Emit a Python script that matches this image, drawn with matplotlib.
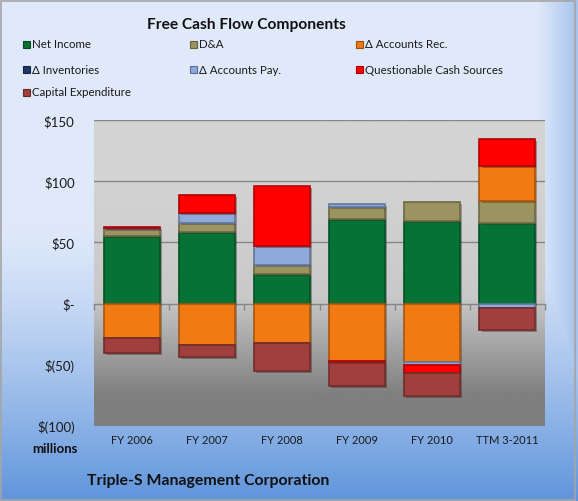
import numpy as np
import matplotlib
matplotlib.use("Agg")
import matplotlib.pyplot as plt
from matplotlib.patches import Rectangle
from matplotlib import patheffects as pe
from matplotlib.colors import to_rgb

plt.rcParams['font.family'] = ['Lato', 'DejaVu Sans']

# ---- data (millions USD) ----
categories = ['FY 2006', 'FY 2007', 'FY 2008', 'FY 2009', 'FY 2010', 'TTM 3-2011']
net_income = [55.5, 58.8, 24.0, 69.0, 67.5, 66.0]
dna = [5.5, 7.4, 7.4, 9.6, 15.3, 17.7]
accounts_rec = [-27.7, -33.6, -32.0, -46.5, -47.8, 28.7]
inventories = [0.0, 0.0, 0.0, 0.0, 0.0, 0.0]
accounts_pay = [0.8, 7.6, 15.9, 2.5, -2.5, -3.3]
questionable = [0.8, 15.0, 49.0, -2.0, -6.0, 22.0]
capex = [-12.3, -10.3, -22.7, -18.6, -19.4, -18.6]

series_names = ['Net Income', 'D&A', 'Δ Accounts Rec.', 'Δ Inventories',
                'Δ Accounts Pay.', 'Questionable Cash Sources', 'Capital Expenditure']
series_values = [net_income, dna, accounts_rec, inventories, accounts_pay, questionable, capex]
series_colors = ['#067235', '#9B9461', '#F17A13', '#1F3A68', '#8EAADB', '#FF0000', '#A13F3D']

yticks = [-100, -50, 0, 50, 100, 150]
ytick_labels = ['$(100)', '$(50)', '$-', '$50', '$100', '$150']

W, H = 578, 502
fig = plt.figure(figsize=(W / 100, H / 100), dpi=100)

# ---- figure background gradient ----
bg = fig.add_axes([0, 0, 1, 1], zorder=-10)
bg.set_axis_off()
yy, xx = np.mgrid[0:H, 0:W]
ty = np.clip((yy / H - 0.45) / 0.55, 0, 1) ** 1.3
tx = np.clip((xx / W - 0.93) / 0.07, 0, 1) * 0.45
t = np.maximum(ty, tx)[..., None]
c_top = np.array(to_rgb('#DFE9FA'))
c_bot = np.array(to_rgb('#5E94DB'))
img = c_top * (1 - t) + c_bot * t
bg.imshow(img, extent=[0, 1, 0, 1], aspect='auto', origin='upper')
bg.set_xlim(0, 1)
bg.set_ylim(0, 1)
bg.add_patch(Rectangle((0.002, 0.002), 0.993, 0.994, fill=False,
                       edgecolor='#A5A5A5', lw=1.2, transform=bg.transAxes))

# ---- main axes ----
L, R, T, B = 94, 545, 121, 427
ax = fig.add_axes([L / W, 1 - B / H, (R - L) / W, (B - T) / H])
ax.set_xlim(-0.5, len(categories) - 0.5)
ax.set_ylim(-100, 150)

# plot area gradient
gy = np.linspace(1, 0, 300)
c_hi = np.array(to_rgb('#D3D3D3'))
c_mid = np.array(to_rgb('#C9C9C9'))
c_lo = np.array(to_rgb('#7F7F7F'))
def shade(v):
    if v >= 0.42:
        f = min((v - 0.42) / 0.38, 1.0)
        return c_mid + (c_hi - c_mid) * f
    if v <= 0.1:
        return c_lo
    f = (v - 0.1) / 0.32
    return c_lo * (1 - f) + c_mid * f
grad = np.array([[shade(v)] for v in gy])
ax.imshow(grad, extent=[-0.5, len(categories) - 0.5, -100, 150], aspect='auto', zorder=0)

for s in ax.spines.values():
    s.set_visible(False)
ax.set_yticks(yticks)
ax.set_yticklabels(ytick_labels)
ax.tick_params(axis='y', length=0, pad=14, labelsize=9.5, labelcolor='#1a1a1a')
ax.set_xticks(range(len(categories)))
ax.set_xticklabels(categories)
ax.tick_params(axis='x', length=0, pad=6, labelsize=8, labelcolor='#1a1a1a')
for yv in [50, 100, 150]:
    ax.axhline(yv, color='#868686', lw=1.0, zorder=1)

# zero category axis with boundary ticks
sec = ax.secondary_xaxis(0.4)
sec.set_xticks(np.arange(-0.5, len(categories)), labels=[''] * (len(categories) + 1))
sec.tick_params(axis='x', direction='out', length=4, color='#868686', width=1)
sec.spines['bottom'].set_color('#868686')
sec.spines['bottom'].set_linewidth(1.0)

# ---- stacked bars ----
x = np.arange(len(categories))
pos_bottom = np.zeros(len(categories))
neg_bottom = np.zeros(len(categories))
shadow = [pe.SimplePatchShadow(offset=(1.5, -1.5), alpha=0.35), pe.Normal()]
for name, vals, col in zip(series_names, series_values, series_colors):
    vals = np.array(vals, dtype=float)
    bottoms = np.where(vals >= 0, pos_bottom, neg_bottom)
    edge = tuple(np.array(to_rgb(col)) * 0.7)
    bars = ax.bar(x, vals, width=0.745, bottom=bottoms, color=col,
                  edgecolor=edge, linewidth=1.2, zorder=3)
    for b, v in zip(bars, vals):
        if v == 0:
            b.set_visible(False)
        else:
            b.set_path_effects(shadow)
    pos_bottom = pos_bottom + np.where(vals > 0, vals, 0)
    neg_bottom = neg_bottom + np.where(vals < 0, vals, 0)

# ---- texts ----
fig.text(246 / W, 1 - 25 / H, 'Free Cash Flow Components', ha='center', va='center',
         fontsize=11.2, fontweight='bold', color='#111111')
fig.text(55 / W, 1 - 449 / H, 'millions', ha='center', va='center',
         fontsize=9.5, fontweight='bold', color='#111111')
fig.text(87 / W, 1 - 481 / H, 'Triple-S Management Corporation', ha='left', va='center',
         fontsize=11.4, fontweight='bold', color='#111111')

# ---- legend (row-major, 3 columns) ----
col_x = [23, 190, 356]
row_y = [45, 70, 93]
for i, (name, col) in enumerate(zip(series_names, series_colors)):
    r, c = divmod(i, 3)
    px, py = col_x[c], row_y[r]
    edge = tuple(np.array(to_rgb(col)) * 0.65)
    fig.patches.append(Rectangle((px / W, 1 - (py + 3.5) / H), 7 / W, 7 / H,
                                 transform=fig.transFigure, facecolor=col,
                                 edgecolor=edge, lw=0.8, figure=fig))
    fig.text((px + 9) / W, 1 - py / H, name, ha='left', va='center',
             fontsize=8.3, color='#1a1a1a')

fig.savefig('out.png', dpi=100)
